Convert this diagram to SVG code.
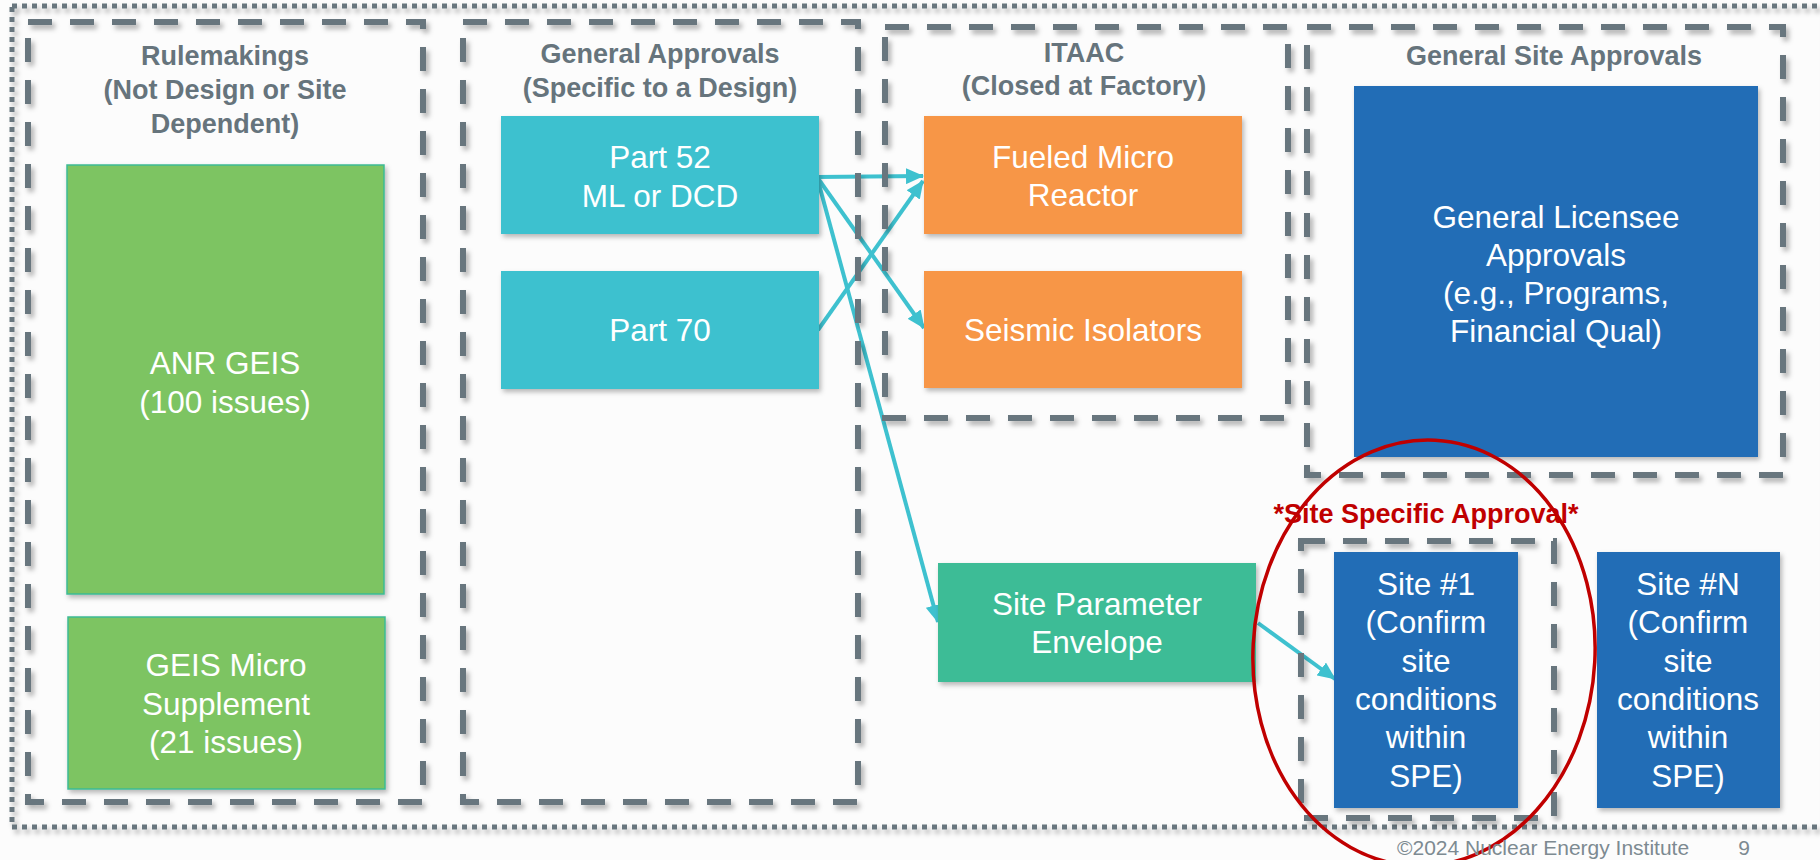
<svg xmlns="http://www.w3.org/2000/svg" width="1820" height="860" viewBox="0 0 1820 860">
  <style>
    .frame { fill: none; stroke: #67767E; stroke-width: 5; stroke-dasharray: 5 5; }
    .group { fill: none; stroke: #67767E; stroke-width: 6; stroke-dasharray: 24 18; }
    .head { font-family: "Liberation Sans", Arial, sans-serif; font-weight: bold; font-size: 27px; fill: #66747C; text-anchor: middle; }
    .label { font-family: "Liberation Sans", Arial, sans-serif; font-size: 31.5px; fill: #FFFFFF; text-anchor: middle; }
    .cyan { fill: #3EC1CF; }
    .orange { fill: #F79646; }
    .green { fill: #7DC462; stroke: #3DBB95; stroke-width: 1.5; }
    .teal { fill: #3EBC96; }
    .blue { fill: #216DB6; }
    .link { fill: none; stroke: #3EC1CF; stroke-width: 4; }
    .foot { font-family: "Liberation Sans", Arial, sans-serif; font-size: 21px; fill: #7D8A91; }
  </style>
  <defs>
    <filter id="boxShadow" x="-10%" y="-10%" width="130%" height="130%">
      <feDropShadow dx="2" dy="3" stdDeviation="2.5" flood-color="#000000" flood-opacity="0.28"/>
    </filter>
    <filter id="lineShadow" x="-5%" y="-5%" width="110%" height="110%">
      <feDropShadow dx="3" dy="4" stdDeviation="2.5" flood-color="#000000" flood-opacity="0.3"/>
    </filter>
    <marker id="arrow" markerUnits="userSpaceOnUse" viewBox="0 0 18 16" refX="17" refY="8" markerWidth="18" markerHeight="16" orient="auto">
      <path d="M0,0 L18,8 L0,16 z" fill="#3EC1CF"/>
    </marker>
  </defs>

  <rect width="1820" height="860" fill="#FCFCFC"/>

  <!-- outer dotted frame -->
  <rect class="frame" x="12" y="6" width="1812" height="821" filter="url(#lineShadow)"/>

  <!-- connectors -->
  <g id="connectors">
    <line class="link" x1="817" y1="177" x2="923" y2="176" marker-end="url(#arrow)"/>
    <line class="link" x1="818" y1="330" x2="923" y2="181" marker-end="url(#arrow)"/>
    <line class="link" x1="817" y1="177" x2="924" y2="328" marker-end="url(#arrow)"/>
    <line class="link" x1="817" y1="177" x2="938" y2="622" marker-end="url(#arrow)"/>
    <line class="link" x1="1258" y1="623" x2="1335" y2="679" marker-end="url(#arrow)"/>
  </g>

  <!-- Rulemakings column -->
  <g id="rulemakings">
    <rect class="group" x="28" y="22" width="395" height="780" filter="url(#lineShadow)"/>
    <text class="head" x="225" y="65">Rulemakings</text>
    <text class="head" x="225" y="99">(Not Design or Site</text>
    <text class="head" x="225" y="133">Dependent)</text>
  </g>
  <g id="anr-geis">
    <rect class="green" x="67" y="165" width="317" height="429" filter="url(#boxShadow)"/>
    <text class="label" x="225" y="374">ANR GEIS</text>
    <text class="label" x="225" y="413">(100 issues)</text>
  </g>
  <g id="geis-micro">
    <rect class="green" x="68" y="617" width="317" height="172" filter="url(#boxShadow)"/>
    <text class="label" x="226" y="676">GEIS Micro</text>
    <text class="label" x="226" y="715">Supplement</text>
    <text class="label" x="226" y="753">(21 issues)</text>
  </g>

  <!-- General Approvals column -->
  <g id="general-approvals">
    <rect class="group" x="463" y="22" width="395" height="780" filter="url(#lineShadow)"/>
    <text class="head" x="660" y="63">General Approvals</text>
    <text class="head" x="660" y="97">(Specific to a Design)</text>
  </g>
  <g id="part-52">
    <rect class="cyan" x="501" y="116" width="318" height="118" filter="url(#boxShadow)"/>
    <text class="label" x="660" y="168">Part 52</text>
    <text class="label" x="660" y="207">ML or DCD</text>
  </g>
  <g id="part-70">
    <rect class="cyan" x="501" y="271" width="318" height="118" filter="url(#boxShadow)"/>
    <text class="label" x="660" y="341">Part 70</text>
  </g>

  <!-- ITAAC column -->
  <g id="itaac">
    <rect class="group" x="885" y="27" width="403" height="391" filter="url(#lineShadow)"/>
    <text class="head" x="1084" y="62">ITAAC</text>
    <text class="head" x="1084" y="95">(Closed at Factory)</text>
  </g>
  <g id="fueled-micro-reactor">
    <rect class="orange" x="924" y="116" width="318" height="118" filter="url(#boxShadow)"/>
    <text class="label" x="1083" y="168">Fueled Micro</text>
    <text class="label" x="1083" y="206">Reactor</text>
  </g>
  <g id="seismic-isolators">
    <rect class="orange" x="924" y="271" width="318" height="117" filter="url(#boxShadow)"/>
    <text class="label" x="1083" y="341">Seismic Isolators</text>
  </g>

  <!-- General Site Approvals column -->
  <g id="general-site-approvals">
    <rect class="group" x="1307" y="27" width="476" height="448" filter="url(#lineShadow)"/>
    <text class="head" x="1554" y="65">General Site Approvals</text>
  </g>
  <g id="general-licensee-approvals">
    <rect class="blue" x="1354" y="86" width="404" height="371" filter="url(#boxShadow)"/>
    <text class="label" x="1556" y="228">General Licensee</text>
    <text class="label" x="1556" y="266">Approvals</text>
    <text class="label" x="1556" y="304">(e.g., Programs,</text>
    <text class="label" x="1556" y="342">Financial Qual)</text>
  </g>

  <!-- Site parameter envelope -->
  <g id="site-parameter-envelope">
    <rect class="teal" x="938" y="563" width="318" height="119" filter="url(#boxShadow)"/>
    <text class="label" x="1097" y="615">Site Parameter</text>
    <text class="label" x="1097" y="653">Envelope</text>
  </g>

  <!-- Site specific approval -->
  <g id="site-specific-approval">
    <rect class="group" x="1301" y="541" width="253" height="277" filter="url(#lineShadow)"/>
    <text x="1426" y="523" font-family="Liberation Sans, Arial, sans-serif" font-weight="bold" font-size="27" fill="#C00000" text-anchor="middle">*Site Specific Approval*</text>
  </g>
  <g id="site-1">
    <rect class="blue" x="1334" y="552" width="184" height="256" filter="url(#boxShadow)"/>
    <text class="label" x="1426" y="595">Site #1</text>
    <text class="label" x="1426" y="633">(Confirm</text>
    <text class="label" x="1426" y="672">site</text>
    <text class="label" x="1426" y="710">conditions</text>
    <text class="label" x="1426" y="748">within</text>
    <text class="label" x="1426" y="787">SPE)</text>
  </g>
  <g id="site-n">
    <rect class="blue" x="1597" y="552" width="183" height="256" filter="url(#boxShadow)"/>
    <text class="label" x="1688" y="595">Site #N</text>
    <text class="label" x="1688" y="633">(Confirm</text>
    <text class="label" x="1688" y="672">site</text>
    <text class="label" x="1688" y="710">conditions</text>
    <text class="label" x="1688" y="748">within</text>
    <text class="label" x="1688" y="787">SPE)</text>
  </g>

  <!-- highlight ring around the first site -->
  <ellipse cx="1424" cy="653" rx="171" ry="213" transform="rotate(3 1424 653)" fill="none" stroke="#C00000" stroke-width="3.5"/>

  <!-- footer -->
  <text class="foot" x="1397" y="855">©2024 Nuclear Energy Institute</text>
  <text class="foot" x="1744" y="855" text-anchor="middle">9</text>
</svg>
